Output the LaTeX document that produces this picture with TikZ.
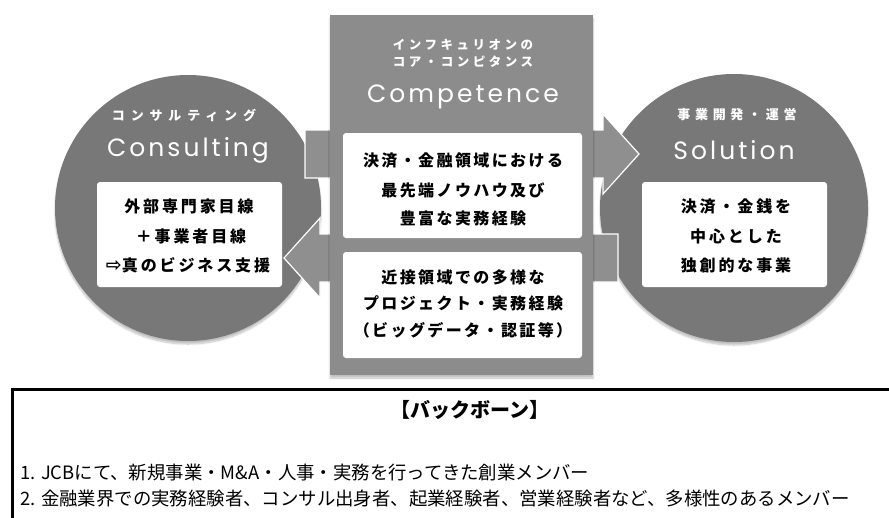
\documentclass[tikz,border=0pt]{standalone}
\usepackage{fontspec}
\usetikzlibrary{shadows.blur}
\newfontfamily\jp{Noto Sans CJK JP}
\newfontfamily\lat{Poppins}
\newfontfamily\sym{DejaVu Sans}
\definecolor{circgray}{HTML}{787878}
\definecolor{boxgray}{HTML}{8C8C8C}
\definecolor{arrgray}{HTML}{8F8F8F}
\tikzset{
  circ/.style={fill=circgray, blur shadow={shadow blur steps=8, shadow xshift=0pt, shadow yshift=-3pt, shadow opacity=25}},
  corebox/.style={fill=boxgray, blur shadow={shadow blur steps=8, shadow xshift=0pt, shadow yshift=-3pt, shadow opacity=25}},
  arr/.style={fill=arrgray, draw=white, line width=1.2pt, line join=miter},
  wbox/.style={fill=white, rounded corners=3pt},
  hdr/.style={text=white, font=\jp\bfseries\fontsize{13}{15}\selectfont},
  big/.style={text=white, font=\lat\fontsize{25}{28}\selectfont\addfontfeatures{LetterSpace=12}},
  btxt/.style={text=black, font=\jp\bfseries\fontsize{16}{18}\selectfont},
  foot/.style={text=black, font=\jp\fontsize{18.4}{21}\selectfont, anchor=west, inner sep=0pt},
}
\begin{document}
\begin{tikzpicture}[x=1pt,y=-1pt]
\useasboundingbox (0,0) rectangle (889,517);
% circles
\fill[circ] (188,208) circle (133);
\fill[circ] (734,208) circle (134);
% arrows
\draw[arr] (305,130) -- (603,130) -- (603,114) -- (639,154) -- (603,194) -- (603,178) -- (305,178) -- cycle;
\draw[arr] (618,234) -- (320,234) -- (320,218) -- (284,258) -- (320,298) -- (320,282) -- (618,282) -- cycle;
% core box
\fill[corebox] (330,15) rectangle (593,375);
% white boxes
\node[wbox, minimum width=239pt, minimum height=105pt, inner sep=0pt] (c1) at (462.5,185.5) {};
\node[wbox, minimum width=239pt, minimum height=106pt, inner sep=0pt] (c2) at (462.5,305) {};
\node[wbox, minimum width=185pt, minimum height=105pt, inner sep=0pt] (l1) at (189.5,234.5) {};
\node[wbox, minimum width=185pt, minimum height=105pt, inner sep=0pt] (r1) at (734.5,234.5) {};
% central texts
\node[hdr, font=\jp\bfseries\fontsize{12.5}{14}\selectfont\addfontfeatures{LetterSpace=28}] (ch1) at (463,45) {インフキュリオンの};
\node[hdr, font=\jp\bfseries\fontsize{12.5}{14}\selectfont\addfontfeatures{LetterSpace=28}] (ch2) at (463,62) {コア・コンピタンス};
\node[big] (ch3) at (463,97) {Competence};
\node[btxt, font=\jp\bfseries\fontsize{16}{18}\selectfont\addfontfeatures{LetterSpace=15}] (t1) at (463,160) {決済・金融領域における};
\node[btxt, font=\jp\bfseries\fontsize{16}{18}\selectfont\addfontfeatures{LetterSpace=15}] (t2) at (463,190) {最先端ノウハウ及び};
\node[btxt, font=\jp\bfseries\fontsize{16}{18}\selectfont\addfontfeatures{LetterSpace=15}] (t3) at (463,218) {豊富な実務経験};
\node[btxt, font=\jp\bfseries\fontsize{16}{18}\selectfont\addfontfeatures{LetterSpace=15}] (t4) at (463,277) {近接領域での多様な};
\node[btxt, font=\jp\bfseries\fontsize{16}{18}\selectfont\addfontfeatures{LetterSpace=15}] (t5) at (463,303) {プロジェクト・実務経験};
\node[btxt, font=\jp\bfseries\fontsize{16}{18}\selectfont\addfontfeatures{LetterSpace=15}] (t6) at (463,330) {（ビッグデータ・認証等）};
% left circle texts
\node[hdr, font=\jp\bfseries\fontsize{13}{15}\selectfont\addfontfeatures{LetterSpace=45}] (lh1) at (184,115) {コンサルティング};
\node[big] (lh2) at (188,150) {Consulting};
\node[btxt, font=\jp\bfseries\fontsize{16}{18}\selectfont\addfontfeatures{LetterSpace=18}] (lt1) at (189,206) {外部専門家目線};
\node[btxt, font=\jp\bfseries\fontsize{16}{18}\selectfont\addfontfeatures{LetterSpace=18}] (lt2) at (191,236) {＋事業者目線};
\node[btxt, font=\jp\bfseries\fontsize{16}{18}\selectfont] (lt3) at (188,265) {{\sym\fontsize{19}{18}\selectfont ⇨}\addfontfeatures{LetterSpace=18}真のビジネス支援};
% right circle texts
\node[hdr, font=\jp\bfseries\fontsize{13}{15}\selectfont\addfontfeatures{LetterSpace=36}] (rh1) at (737,115) {事業開発・運営};
\node[big] (rh2) at (734,150) {Solution};
\node[btxt, font=\jp\bfseries\fontsize{16}{18}\selectfont\addfontfeatures{LetterSpace=18}] (rt1) at (736,206) {決済・金銭を};
\node[btxt, font=\jp\bfseries\fontsize{16}{18}\selectfont\addfontfeatures{LetterSpace=18}] (rt2) at (736,236) {中心とした};
\node[btxt, font=\jp\bfseries\fontsize{16}{18}\selectfont\addfontfeatures{LetterSpace=18}] (rt3) at (736,265) {独創的な事業};
% bottom box
\draw[line width=3pt] (12,389) rectangle (900,530);
\node[font=\jp\bfseries\fontsize{20}{22}\selectfont] (bt) at (470,410) {【バックボーン】};
\node[foot] (b1) at (20,473) {1. JCBにて、新規事業・M\&A・人事・実務を行ってきた創業メンバー};
\node[foot] (b2) at (20,499) {2. 金融業界での実務経験者、コンサル出身者、起業経験者、営業経験者など、多様性のあるメンバー};
\end{tikzpicture}
\end{document}
